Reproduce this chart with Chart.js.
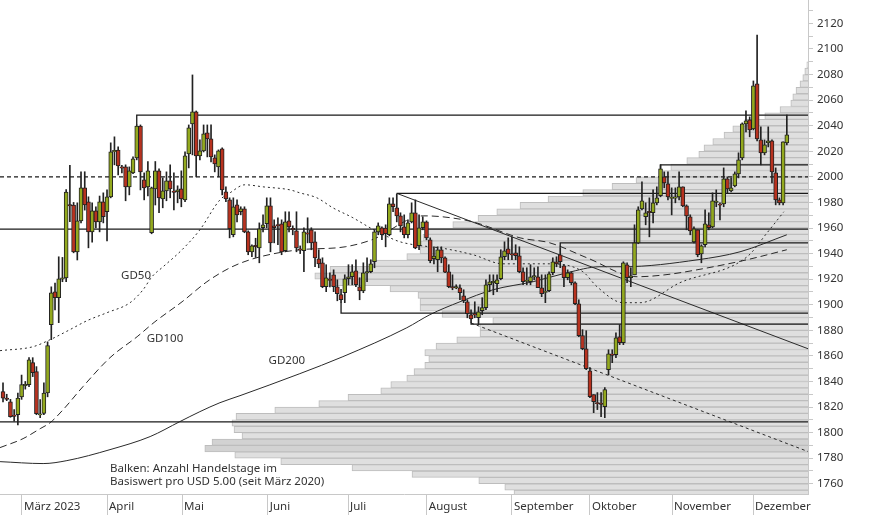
<!DOCTYPE html>
<html><head><meta charset="utf-8">
<script src="https://cdn.jsdelivr.net/npm/chart.js@4.4.0/dist/chart.umd.min.js"></script>
<style>html,body{margin:0;padding:0;background:#fff;}#wrap{width:874px;height:515px;}</style>
</head><body><div id="wrap"><canvas id="c" width="874" height="515"></canvas></div>
<script>
// ---------- data ----------
const monthTicks = [5.11, 28.0, 48.2, 71.3, 92.9, 114.1, 137.0, 158.0, 180.1, 201.9];
const monthLabels = ['März 2023','April','Mai','Juni','Juli','August','September','Oktober','November','Dezember'];

const opens  = [1832,1827,1824,1813.5,1814,1828,1837,1837.5,1854.7,1847.7,1814,1815,1831,1884.4,1910,1905.5,1920,1921,1978,1978,1941.4,1965.6,1991.4,1980.5,1957,1973.4,1964.8,1980.5,1972.7,1984.4,2020,2021,2007.5,2007.8,1992.2,2003.1,2014.8,2039.8,1997.7,1992.2,1956.3,1990.6,2004.7,1982.8,1989,1996.9,1988.5,1988.3,1990.6,1982,2018,2041.4,2050.8,2016.4,2020.3,2034.4,2029.7,2014.8,2007.8,2021.9,1988.3,1982,1954.7,1978.1,1972.7,1975,1957,1941.4,1946.5,1944.5,1960.2,1963.3,1977.3,1961.7,1962.5,1963.3,1942.2,1965.6,1959.4,1957.8,1943.5,1942.2,1956,1958.6,1949.2,1935.9,1932.8,1914.1,1920,1923.4,1914.1,1908,1909.4,1920.3,1921.9,1926.6,1914.1,1910.9,1925,1925.8,1933.6,1957,1960.2,1960,1954.7,1978.9,1975.8,1969.5,1960.9,1954.7,1964.8,1971.9,1946.1,1960.2,1964.8,1950.8,1936,1935.2,1943,1936.7,1925.8,1914.1,1913.3,1913.3,1907,1902.3,1892.2,1893,1889.8,1895.3,1897.7,1915.6,1917,1916.4,1920.3,1937.5,1943.8,1939.8,1940.6,1938.3,1925.8,1918.5,1918,1921.9,1921.9,1913.3,1910,1911,1925,1933.6,1939,1930.5,1921.1,1925,1917.2,1900.8,1875.8,1865.6,1848.4,1829.7,1823.4,1822.7,1820.3,1849.2,1861,1860.9,1875,1870.3,1931.3,1921.1,1923.4,1948.4,1975,1968.8,1972.7,1971.9,1979.7,1985.2,2000,1994.5,1983.6,1983.6,1984.4,1992.2,1977.3,1968.8,1949.2,1958.6,1939.8,1946.9,1962.5,1960.9,1980.5,1978.5,1978.9,1998.4,1989,1993,2002.3,2014.8,2041.4,2044.5,2037.5,2072.7,2028.9,2018.8,2026.6,2028.1,2003.1,1982,1979.7,2026.6];
const highs  = [1839,1830,1826,1818,1831,1845,1840,1858.6,1858.6,1851.6,1825.8,1839,1871,1914,1917,1937.5,1937,1990,2009,1980,1979.7,2004,2004,1984.4,1979.7,1976.6,1985,1987.5,1989.8,2026.6,2031.3,2023.4,2009,2009.4,2007.8,2015.6,2040.6,2040.6,2003.1,2012,1992,2012,2006.3,1999.2,2003.9,2009.4,2003.1,1993,2004.7,2019.5,2040.6,2079.7,2051.5,2028.9,2040.6,2040.6,2040.6,2017.2,2021.1,2022.7,1992.2,1983.6,1983.6,1982,1976.6,1976.6,1957.8,1946.9,1952,1964,1970.3,1983.6,1983.6,1966.4,1968,1966.4,1972.7,1972.7,1961.7,1972.7,1946,1960.2,1968,1960.2,1957,1943,1936.7,1931.3,1925,1927.3,1919.5,1912,1923.4,1931.3,1931.3,1935.2,1921.1,1932.8,1936.7,1935.2,1958.6,1964,1960.9,1962.5,1983.6,1983.6,1986.7,1971.9,1970.3,1966.4,1979.7,1982,1970.3,1968.8,1965.6,1952.3,1945.3,1945.3,1945.3,1937.5,1931.3,1923.4,1915.6,1915.6,1911.7,1903.9,1896.1,1902.3,1898.4,1905.5,1919.5,1923.4,1923.4,1923.4,1943,1949.2,1952.3,1953.1,1946.9,1945.3,1928.9,1928.9,1931.3,1928.9,1929.7,1923.4,1923.4,1925.8,1936.7,1937.5,1944.5,1931.3,1927.3,1925.8,1918,1903.9,1880.5,1879.7,1850.8,1829.7,1831.3,1831.3,1835.2,1864.8,1864.8,1878.1,1884.4,1933.6,1932.8,1928.9,1962.5,1976.6,1996.1,1979.7,1983.6,1989.8,1992.2,2009.4,2003.9,2003.9,1991.4,1991.4,2003.9,1992.2,1978.1,1970.3,1960.9,1958.6,1946.9,1974.2,1971.9,1987.5,1989.8,1979.7,2007,2000,1999.2,2003.9,2018.8,2042.2,2051.6,2046.9,2075,2110.9,2039.1,2028.9,2039.1,2028.9,2007,1983.6,2027.3,2048.4];
const lows   = [1824,1825,1812,1809,1806,1826,1834,1836,1843.8,1814,1811.7,1814,1828,1872.7,1896,1886,1918,1918,1965,1940.6,1935,1964,1974,1944.5,1949,1960,1957,1964,1950,1983.6,2009.4,2001.6,2003,1981.3,1985.9,2002.5,2013.3,1989.8,1982,1985,1955.5,1978,1971.9,1975.8,1981.3,1983.6,1974.2,1979.7,1976.6,1980.5,2007,2017.2,2000,2013.3,2019.5,2015.6,2011.7,2003.9,2000,1985.9,1980.5,1952.3,1953.1,1964.8,1970.3,1956.3,1939.1,1937.5,1937,1932.8,1957,1960.2,1941.4,1948.4,1946.9,1939.1,1941.4,1957,1954.7,1941.4,1940,1925.8,1948.4,1943,1929.7,1928.9,1913.3,1910.2,1914,1910.2,1903.1,1901.6,1901.6,1915.6,1915.6,1914.1,1903.9,1909.4,1918,1925,1928.9,1954.7,1950.8,1945.3,1953.9,1972.7,1964.8,1957,1952.3,1952.3,1964,1943.8,1943,1958.6,1950.8,1932.8,1932,1925.8,1932.8,1925,1913.3,1911.7,1912.5,1903.9,1901.6,1889.8,1885.9,1889.8,1884.4,1892.2,1896.1,1910.2,1907.8,1910.2,1919.5,1935.2,1935.2,1935.2,1935.2,1925,1915.6,1915.6,1915.6,1919.5,1913.3,1906.3,1901.6,1910.2,1923.4,1929.7,1929,1914.1,1919.5,1915.6,1900,1875,1864.8,1849.2,1827.3,1815.6,1818,1812.5,1811.7,1845.3,1854.7,1858.6,1868.8,1868.8,1917.2,1914.1,1923.4,1947.7,1974.2,1962.5,1953.1,1964,1978.1,1984.4,1991.4,1982,1970.3,1979.7,1982,1976.6,1958.6,1954.7,1948.4,1937.5,1932.8,1945.3,1958.6,1960.2,1976.6,1966.4,1976.6,1987.5,1988.3,1992.2,1999.2,2013.3,2035.2,2031.3,2036.7,2028.1,2009.4,2017.2,2023.4,1995.3,1978.1,1978.1,1978.1,2025];
const closes = [1827,1826,1812.5,1813,1827,1837.5,1837.5,1857,1846.9,1814.8,1814.5,1831,1868,1909.4,1905.5,1920.3,1921,1988,1977.6,1941.4,1965.6,1991.4,1978,1957,1973.4,1964.8,1980.5,1968.8,1984.4,2019.5,2020.3,2008.6,2007,1992.2,2004.7,2014.1,2039.8,2003.9,1991.4,2004.7,1991.4,2004.7,1983.6,1989,1996.9,1990.6,1988.3,1989.8,1982.8,2016.4,2038.3,2050.8,2016.4,2020.3,2033.6,2029.7,2015.6,2010.2,2020.3,1989.8,1982.8,1959.4,1976.6,1970.3,1975,1957,1941.4,1946.1,1945.3,1959.4,1962.5,1977.3,1948.4,1960.2,1962,1941.4,1964.8,1960.9,1959,1944.5,1943,1957,1955.5,1948.4,1936.7,1932,1914.1,1921.1,1919,1914.1,1908.6,1904,1920.3,1921.9,1925.8,1915.6,1910.9,1925,1925.8,1932,1957,1961.7,1954.7,1955.5,1978.9,1976.6,1969.5,1961.7,1954.7,1964,1971.9,1944.5,1960.2,1964.8,1952.3,1934.4,1938,1943,1936.7,1925.5,1914.1,1913.3,1914,1909.4,1903.1,1893,1889,1892,1894.5,1897.7,1915.6,1918,1918.5,1919.5,1937.5,1942.2,1939.8,1939,1938.3,1925.8,1918,1918.8,1921.9,1922.7,1913.3,1908.6,1910.2,1924.2,1933.6,1932,1933.6,1921.1,1925,1917.2,1900.8,1875.8,1865.6,1850,1828.1,1824.2,1822.7,1822.4,1833.6,1861.7,1860.9,1874.2,1870.3,1932.8,1921.1,1922.7,1948.4,1974.2,1981.3,1971.9,1972.3,1979.7,1983.6,2006.3,1995.3,1984.4,1983.6,1984,1992.2,1977.3,1969.5,1957.8,1959.4,1939.1,1946.1,1963.3,1960.2,1981.3,1980.5,1978.1,1998.4,1990.6,1991.4,2002.3,2013.3,2041.4,2043.8,2036.7,2071.1,2029.7,2018.8,2025,2028.1,2003.9,1982,1979.7,2027.3,2032.8];

// moving averages (day index, price)
const gd50Days = [-0.8,8.1,12.7,18,22.6,28,34.2,37.7,40.1,43.1,48.2,53,58.4,61.1,65.1,70,77.3,79.9,84.5,88.8,94.2,98.8,103.6,106.9,114.9,117.6,126.5,134.6,147.2,156.1,159.9,166.9,171.5,182.2,200.3,205.7,210.2];
const gd50Vals = [1864.1,1867.2,1872.7,1880.5,1887.5,1893.8,1901.6,1911.7,1921.9,1929.7,1943,1958.6,1982,1987.5,1993.8,1992.2,1989.8,1987.5,1983.6,1975.8,1968,1960.2,1953.1,1949.2,1945.3,1944.5,1939.1,1932,1932,1925.8,1914.1,1901.6,1901.6,1917.2,1937.5,1956.3,1972.7];
const gd100Days = [-0.8,5.4,10,12.7,16.2,21.5,28.8,36.1,40.9,48.2,54.9,61.1,66.5,72.7,79.9,92.1,99.3,113.1,118.2,126.5,139.2,147.2,157.2,170.7,178.2,186.8,200.3,211];
const gd100Vals = [1788.3,1795.3,1803.1,1807.8,1818,1835.9,1858.6,1875,1886.7,1902.3,1918,1928.9,1935.2,1939.8,1943,1945.3,1950.8,1969.5,1968.8,1964.8,1952.3,1948.4,1936.7,1921.9,1923.4,1927.3,1935.2,1943];
const gd200Days = [-0.8,10.8,17.2,28.8,39.6,47.6,53,58.4,63.8,79.9,91.5,108.7,114.9,123,131.9,142.7,151.8,160.7,166.9,187.1,198.4,211];
const gd200Vals = [1777.3,1775.8,1778.1,1786.7,1796.9,1808.6,1816.4,1823.4,1828.9,1846.1,1859.4,1882,1892.2,1902.3,1911.7,1918,1925,1929.7,1929.7,1935.2,1941.4,1954.7];

// horizontal support / resistance lines
const fullLevels = [1959.2, 1808.4];
const dashedLevel = 2000;
const boxDays    = [36, 106, 91, 126, 177, 150];
const boxAnchors = [2040.6, 1987.1, 1901.6, 1885.9, 2005.5, 1944.5];
const boxLevels  = [2048.2, 1987.1, 1893.5, 1884.9, 2009.4, 1948.4];
// trend lines
const trendDays = [106, 216.7], trendVals = [1987.1, 1865.6];
const channelDays = [126, 216.7], channelVals = [1885.7, 1785.2];

// volume profile: number of trading days per USD 5.00 bucket
const profileLow = [1750,1755,1760,1765,1770,1775,1780,1785,1790,1795,1800,1805,1810,1815,1820,1825,1830,1835,1840,1845,1850,1855,1860,1865,1870,1875,1880,1885,1890,1895,1900,1905,1910,1915,1920,1925,1930,1935,1940,1945,1950,1955,1960,1965,1970,1975,1980,1985,1990,1995,2000,2005,2010,2015,2020,2025,2030,2035,2040,2045,2050,2055,2060,2065,2070,2075,2080,2085];
const profileCount = [73.5,75.8,82.3,99,114,131.8,143.3,150.8,149,141.5,143.5,144,143,133.3,122.3,115,106.8,104.3,100.3,98.5,95.8,94.8,95.8,93,87.8,82,82,78.8,91.5,97,97,97.5,104.5,119.5,123.3,119.5,109.5,100.3,97,97,96.3,95.3,88.8,82.5,77.8,72,65,56.3,49,43,37,34.3,30.3,27.3,26,23.8,21,18.8,15.8,10.8,7,4.3,3.8,3,2,1.3,0.8,0.3];

const maLabels = [{text:'GD50', day:35.8, price:1922.7},{text:'GD100', day:43.6, price:1873.4},{text:'GD200', day:76.4, price:1856.3}];
const noteLines = ['Balken: Anzahl Handelstage im','Basiswert pro USD 5.00 (seit März 2020)'];
const noteDay = 28.8, notePrices = [1771.9, 1761.3];

// ---------- chart ----------
const X_MIN = -0.81, X_MAX = 216.7, Y_MIN = 1752, Y_MAX = 2138.3;
const FONT = {family:'"Noto Sans", "DejaVu Sans", sans-serif', size:11.5};
const TXT = '#333333', AX = '#c8c8c8', INK = '#222222';
const GREEN = '#93a91e', RED = '#b8321f';

const idx = opens.map((_, i) => i);
const wickData = idx.map(i => ({x:i, y:[lows[i], highs[i]]}));
const bodyData = idx.map(i => {
  let a = Math.min(opens[i], closes[i]), b = Math.max(opens[i], closes[i]);
  if (b - a < 1) { const m = (a + b) / 2; a = m - 0.5; b = m + 0.5; }
  return {x:i, y:[a, b]};
});
const bodyColors = idx.map(i => closes[i] >= opens[i] ? GREEN : RED);
const profileData = profileLow.map((p, k) => ({y:p + 2.5, x:profileCount[k]}));
const profileColors = profileCount.map(c => c > 146 ? '#d2d2d2' : '#dfdfdf');

const lineDs = (pts, extra) => Object.assign({type:'line', data:pts, xAxisID:'x', yAxisID:'y', pointRadius:0, borderWidth:1, borderColor:INK, fill:false, order:5}, extra||{});
const datasets = [];
datasets.push({type:'bar', indexAxis:'y', data:profileData, xAxisID:'xp', yAxisID:'yp', backgroundColor:profileColors, borderColor:'#bdbdbd', borderWidth:1, barPercentage:1, categoryPercentage:1, grouped:false, order:20});
fullLevels.forEach(l => datasets.push(lineDs([{x:X_MIN,y:l},{x:X_MAX,y:l}], {borderWidth:1.3, borderColor:'#1a1a1a'})));
datasets.push(lineDs([{x:X_MIN,y:dashedLevel},{x:X_MAX,y:dashedLevel}], {borderWidth:1.2, borderDash:[4,3], borderColor:'#1a1a1a'}));
boxDays.forEach((d, k) => datasets.push(lineDs([{x:d,y:boxAnchors[k]},{x:d,y:boxLevels[k]},{x:X_MAX,y:boxLevels[k]}], {borderWidth:1.3, borderColor:'#1a1a1a'})));
datasets.push(lineDs(trendDays.map((d,k)=>({x:d,y:trendVals[k]})), {borderColor:'#2a2a2a'}));
datasets.push(lineDs(channelDays.map((d,k)=>({x:d,y:channelVals[k]})), {borderColor:'#2a2a2a', borderDash:[3,3]}));
datasets.push(lineDs(gd50Days.map((d,k)=>({x:d,y:gd50Vals[k]})), {borderColor:'#2a2a2a', borderDash:[2,3], cubicInterpolationMode:'monotone'}));
datasets.push(lineDs(gd100Days.map((d,k)=>({x:d,y:gd100Vals[k]})), {borderColor:'#2a2a2a', borderDash:[7,4], cubicInterpolationMode:'monotone'}));
datasets.push(lineDs(gd200Days.map((d,k)=>({x:d,y:gd200Vals[k]})), {borderColor:'#2a2a2a', cubicInterpolationMode:'monotone'}));
datasets.push({type:'bar', data:wickData, xAxisID:'x', yAxisID:'y', backgroundColor:INK, borderWidth:0, barThickness:1, grouped:false, order:2});
datasets.push({type:'bar', data:bodyData, xAxisID:'x', yAxisID:'y', backgroundColor:bodyColors, borderColor:INK, borderWidth:1, borderSkipped:false, barThickness:4, grouped:false, order:1});

const notes = {
  id:'notes',
  afterDatasetsDraw(chart) {
    const {ctx} = chart; const x = chart.scales.x, y = chart.scales.y;
    ctx.save();
    ctx.font = FONT.size + 'px ' + FONT.family;
    ctx.fillStyle = TXT; ctx.textBaseline = 'middle'; ctx.textAlign = 'center';
    maLabels.forEach(l => ctx.fillText(l.text, x.getPixelForValue(l.day), y.getPixelForValue(l.price)));
    ctx.textAlign = 'left';
    noteLines.forEach((t, k) => ctx.fillText(t, x.getPixelForValue(noteDay), y.getPixelForValue(notePrices[k])));
    ctx.restore();
  }
};

const noPad = s => { s.paddingTop = 0; s.paddingBottom = 0; s.paddingLeft = 0; s.paddingRight = 0; };

new Chart(document.getElementById('c'), {
  type:'bar',
  data:{datasets},
  plugins:[notes],
  options:{
    responsive:false, animation:false,
    layout:{padding:0},
    plugins:{legend:{display:false}, tooltip:{enabled:false}},
    scales:{
      x:{type:'linear', min:X_MIN, max:X_MAX, offset:false,
         afterBuildTicks:s => { s.ticks = monthTicks.map(v => ({value:v})); },
         afterFit:s => { s.height = 21; noPad(s); },
         ticks:{autoSkip:false, maxRotation:0, align:'start', labelOffset:2, padding:-15, color:TXT, font:FONT,
                callback:(v, i) => monthLabels[i]},
         grid:{offset:false, drawOnChartArea:false, drawTicks:true, tickLength:21, color:AX},
         border:{display:true, color:AX}},
      y:{type:'linear', position:'right', min:Y_MIN, max:Y_MAX, offset:false,
         afterFit:s => { s.width = 66; noPad(s); },
         ticks:{stepSize:10, includeBounds:false, autoSkip:false, padding:4, color:TXT, font:FONT,
                callback:v => (Math.round(v) % 20 === 0 ? String(Math.round(v)) : '')},
         grid:{offset:false, drawOnChartArea:false, drawTicks:true, tickLength:5, color:AX},
         border:{display:true, color:AX}},
      xp:{type:'linear', axis:'x', display:false, reverse:true, min:0, max:202, offset:false},
      yp:{type:'linear', axis:'y', display:false, min:Y_MIN, max:Y_MAX, offset:false}
    }
  }
});
</script></body></html>
